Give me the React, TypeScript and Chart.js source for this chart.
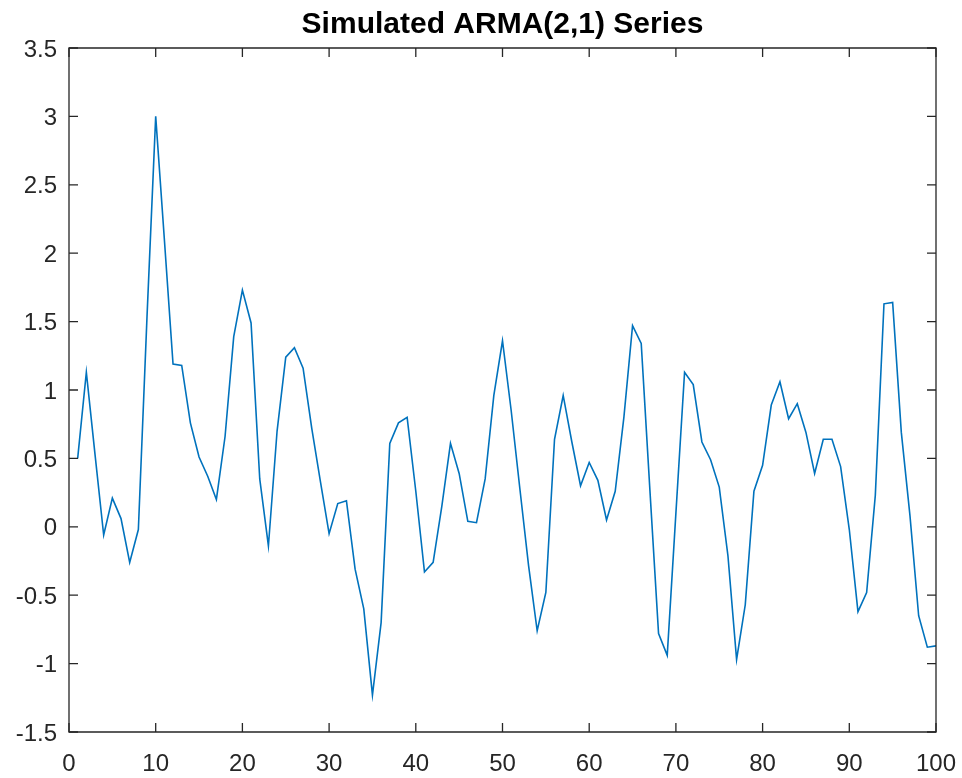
import React, { useEffect, useRef } from "react";
import { Chart, registerables } from "chart.js";

Chart.register(...registerables);

const TITLE = "Simulated ARMA(2,1) Series";

// Sample index (1..100) for each observation
const sampleIndex: number[] = [
  1, 2, 3, 4, 5, 6, 7, 8, 9, 10, 11, 12, 13, 14, 15, 16, 17, 18, 19, 20,
  21, 22, 23, 24, 25, 26, 27, 28, 29, 30, 31, 32, 33, 34, 35, 36, 37, 38, 39, 40,
  41, 42, 43, 44, 45, 46, 47, 48, 49, 50, 51, 52, 53, 54, 55, 56, 57, 58, 59, 60,
  61, 62, 63, 64, 65, 66, 67, 68, 69, 70, 71, 72, 73, 74, 75, 76, 77, 78, 79, 80,
  81, 82, 83, 84, 85, 86, 87, 88, 89, 90, 91, 92, 93, 94, 95, 96, 97, 98, 99, 100,
];

// Simulated ARMA(2,1) values
const seriesValues: number[] = [
  0.5, 1.13, 0.53, -0.06, 0.21, 0.06, -0.26, -0.02, 1.54, 3.0,
  2.1, 1.19, 1.18, 0.76, 0.51, 0.37, 0.2, 0.66, 1.39, 1.73,
  1.49, 0.35, -0.14, 0.7, 1.24, 1.31, 1.16, 0.72, 0.33, -0.05,
  0.17, 0.19, -0.31, -0.6, -1.23, -0.7, 0.61, 0.76, 0.8, 0.26,
  -0.33, -0.26, 0.15, 0.61, 0.39, 0.04, 0.03, 0.35, 0.96, 1.36,
  0.85, 0.28, -0.28, -0.76, -0.48, 0.64, 0.96, 0.62, 0.3, 0.47,
  0.34, 0.05, 0.26, 0.8, 1.47, 1.34, 0.27, -0.78, -0.94, 0.1,
  1.13, 1.04, 0.62, 0.49, 0.29, -0.21, -0.97, -0.57, 0.26, 0.45,
  0.89, 1.06, 0.79, 0.9, 0.69, 0.39, 0.64, 0.64, 0.44, -0.02,
  -0.62, -0.48, 0.23, 1.63, 1.64, 0.69, 0.08, -0.65, -0.88, -0.87,
];

const xTickValues: number[] = [0, 10, 20, 30, 40, 50, 60, 70, 80, 90, 100];
const yTickValues: number[] = [-1.5, -1, -0.5, 0, 0.5, 1, 1.5, 2, 2.5, 3, 3.5];

const AXIS_COLOR = "#262626";
const FONT_FAMILY = '"Liberation Sans", Arial, Helvetica, sans-serif';

const fmt = (v: number) => String(Math.round(v * 10) / 10);

const matlabAxesPlugin = {
  id: "matlabAxes",
  afterDraw(chart: any) {
    const ctx = chart.ctx;
    const { left, right, top, bottom } = chart.chartArea;
    const xs = chart.scales.x;
    const ys = chart.scales.y;
    const tickLen = 9;
    ctx.save();
    ctx.strokeStyle = AXIS_COLOR;
    ctx.lineWidth = 1.3;
    ctx.beginPath();
    ctx.rect(left, top, right - left, bottom - top);
    ctx.stroke();

    ctx.beginPath();
    xTickValues.forEach((v) => {
      const px = xs.getPixelForValue(v);
      ctx.moveTo(px, bottom);
      ctx.lineTo(px, bottom - tickLen);
      ctx.moveTo(px, top);
      ctx.lineTo(px, top + tickLen);
    });
    yTickValues.forEach((v) => {
      const py = ys.getPixelForValue(v);
      ctx.moveTo(left, py);
      ctx.lineTo(left + tickLen, py);
      ctx.moveTo(right, py);
      ctx.lineTo(right - tickLen, py);
    });
    ctx.stroke();

    ctx.fillStyle = AXIS_COLOR;
    ctx.font = `24px ${FONT_FAMILY}`;
    ctx.textBaseline = "alphabetic";
    ctx.textAlign = "center";
    xTickValues.forEach((v) => {
      const px = xs.getPixelForValue(v);
      ctx.fillText(fmt(v), px, bottom + 39);
    });
    ctx.textAlign = "right";
    yTickValues.forEach((v) => {
      const py = ys.getPixelForValue(v);
      ctx.fillText(fmt(v), left - 12, py + 8.5);
    });

    ctx.fillStyle = "#000000";
    ctx.font = `bold 30px ${FONT_FAMILY}`;
    ctx.textAlign = "center";
    ctx.fillText(TITLE, (left + right) / 2, 33);
    ctx.restore();
  },
};

export default function App() {
  const canvasRef = useRef<HTMLCanvasElement | null>(null);

  useEffect(() => {
    document.body.style.margin = "0";
    const canvas = canvasRef.current;
    if (!canvas) return;
    const points = sampleIndex.map((x, i) => ({ x, y: seriesValues[i] }));
    const chart = new Chart(canvas, {
      type: "line",
      data: {
        datasets: [
          {
            data: points,
            borderColor: "#0072BD",
            borderWidth: 1.6,
            pointRadius: 0,
            tension: 0,
            fill: false,
          },
        ],
      },
      options: {
        animation: false,
        responsive: false,
        events: [],
        layout: { padding: { left: 0, right: 26, top: 48, bottom: 0 } },
        plugins: {
          legend: { display: false },
          title: { display: false },
          tooltip: { enabled: false },
        },
        scales: {
          x: {
            type: "linear",
            min: 0,
            max: 100,
            afterBuildTicks: (s: any) => {
              s.ticks = xTickValues.map((value) => ({ value }));
            },
            afterFit: (s: any) => {
              s.height = 46;
            },
            grid: { display: false, drawTicks: false },
            border: { display: false },
            ticks: { display: false },
          },
          y: {
            type: "linear",
            min: -1.5,
            max: 3.5,
            afterBuildTicks: (s: any) => {
              s.ticks = yTickValues.map((value) => ({ value }));
            },
            afterFit: (s: any) => {
              s.width = 69;
            },
            grid: { display: false, drawTicks: false },
            border: { display: false },
            ticks: { display: false },
          },
        },
      },
      plugins: [matlabAxesPlugin],
    });
    return () => chart.destroy();
  }, []);

  return (
    <div style={{ width: 962, height: 778, background: "#ffffff" }}>
      <canvas ref={canvasRef} width={962} height={778} style={{ display: "block" }} />
    </div>
  );
}
